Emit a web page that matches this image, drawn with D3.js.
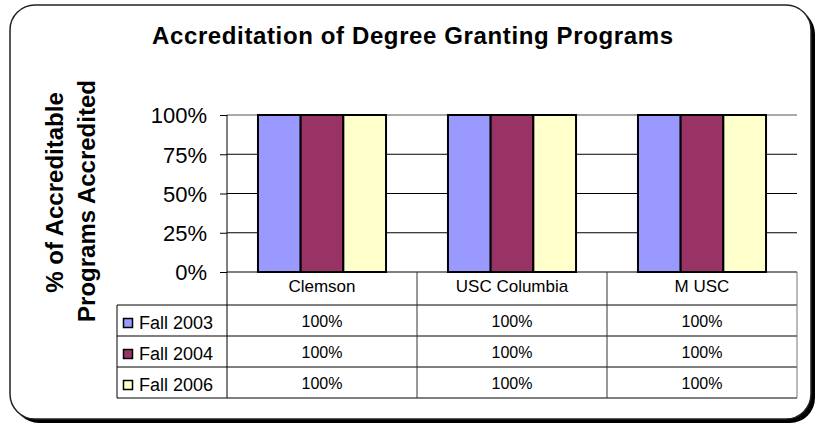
<!DOCTYPE html>
<html>
<head>
<meta charset="utf-8">
<script src="https://cdn.jsdelivr.net/npm/d3@7"></script>
<style>
  body { margin: 0; background: #fff; }
  text { font-family: "Liberation Sans", Arial, sans-serif; fill: #000; }
</style>
</head>
<body>
<svg id="chart" width="818" height="427"></svg>
<script>
// Chart data
var categories = ['Clemson', 'USC Columbia', 'M USC'];
var seriesNames = ['Fall 2003', 'Fall 2004', 'Fall 2006'];
var fall2003 = [1, 1, 1];
var fall2004 = [1, 1, 1];
var fall2006 = [1, 1, 1];
var yTicks = [0, 0.25, 0.5, 0.75, 1];
var colors = ['#9999ff', '#993366', '#ffffcc'];

var seriesValues = [fall2003, fall2004, fall2006];

var svg = d3.select('#chart');

// Plot area (note: "top" is reserved on window, so prefix everything)
var plotLeft = 227, plotRight = 797, plotTop = 115, plotBottom = 272;
var tableTop = 305, tableBottom = 398, legendLeft = 117;

// Frame with shadow
svg.append('rect')
    .attr('x', 14).attr('y', 9)
    .attr('width', 801).attr('height', 414)
    .attr('rx', 25).attr('ry', 25)
    .attr('fill', '#000');
svg.append('rect')
    .attr('x', 10).attr('y', 5)
    .attr('width', 801).attr('height', 414)
    .attr('rx', 25).attr('ry', 25)
    .attr('fill', '#fff')
    .attr('stroke', '#222')
    .attr('stroke-width', 1.5);

// Title
svg.append('text')
    .attr('x', 152).attr('y', 44)
    .attr('textLength', 521)
    .attr('lengthAdjust', 'spacing')
    .style('font-size', '24px')
    .style('font-weight', 'bold')
    .text('Accreditation of Degree Granting Programs');

// Y axis title
svg.append('text')
    .attr('transform', 'translate(63,192.5) rotate(-90)')
    .attr('text-anchor', 'middle')
    .style('font-size', '24px')
    .style('font-weight', 'bold')
    .text('% of Accreditable');
svg.append('text')
    .attr('transform', 'translate(95,201) rotate(-90)')
    .attr('text-anchor', 'middle')
    .style('font-size', '24px')
    .style('font-weight', 'bold')
    .text('Programs Accredited');

// Scales
var xScale = d3.scaleBand()
    .domain(categories)
    .range([plotLeft, plotRight])
    .paddingInner(0.326)
    .paddingOuter(0.163);

var xCat = d3.scaleBand()
    .domain(categories)
    .range([plotLeft, plotRight]);

var xSeries = d3.scaleBand()
    .domain(seriesNames)
    .range([0, xScale.bandwidth()]);

var yScale = d3.scaleLinear()
    .domain([0, 1])
    .range([plotBottom, plotTop]);

var rowScale = d3.scaleBand()
    .domain(seriesNames)
    .range([tableTop, tableBottom]);

// Gridlines
svg.append('g').selectAll('line')
    .data(yTicks.filter(function (d) { return d > 0; }))
    .enter()
  .append('line')
    .attr('x1', plotLeft).attr('x2', plotRight)
    .attr('y1', function (d) { return yScale(d); })
    .attr('y2', function (d) { return yScale(d); })
    .attr('stroke', function (d) { return d === 1 ? '#555' : '#000'; })
    .attr('stroke-width', 1);

// Y axis
var yAxis = d3.axisLeft(yScale)
    .tickValues(yTicks)
    .tickSize(7)
    .tickPadding(13)
    .tickFormat(d3.format('.0%'));

var yAxisG = svg.append('g')
    .attr('transform', 'translate(' + plotLeft + ',0)')
    .call(yAxis);
yAxisG.select('.domain').remove();
yAxisG.selectAll('line').attr('stroke', '#000');
yAxisG.selectAll('text')
    .style('font-family', '"Liberation Sans", Arial, sans-serif')
    .style('font-size', '22px')
    .attr('dy', '0.36em');

// Bars
var groups = svg.append('g').selectAll('g')
    .data(categories)
    .enter()
  .append('g')
    .attr('transform', function (d) { return 'translate(' + xScale(d) + ',0)'; });

groups.selectAll('rect')
    .data(function (d, i) {
      return seriesNames.map(function (s, j) {
        return { series: s, value: seriesValues[j][i], color: colors[j] };
      });
    })
    .enter()
  .append('rect')
    .attr('x', function (d) { return xSeries(d.series); })
    .attr('y', function (d) { return yScale(d.value); })
    .attr('width', xSeries.bandwidth())
    .attr('height', function (d) { return yScale(0) - yScale(d.value); })
    .attr('fill', function (d) { return d.color; })
    .attr('stroke', '#000')
    .attr('stroke-width', 2);

// Data table lines
var tbl = svg.append('g');

tbl.append('line')
    .attr('x1', plotLeft).attr('x2', plotRight)
    .attr('y1', plotBottom).attr('y2', plotBottom)
    .attr('stroke', '#000');

tbl.selectAll('.hrow')
    .data(seriesNames.concat(['end']))
    .enter()
  .append('line')
    .attr('class', 'hrow')
    .attr('x1', legendLeft).attr('x2', plotRight)
    .attr('y1', function (d) { return d === 'end' ? tableBottom : rowScale(d); })
    .attr('y2', function (d) { return d === 'end' ? tableBottom : rowScale(d); })
    .attr('stroke', '#000');

tbl.append('line')
    .attr('x1', legendLeft).attr('x2', legendLeft)
    .attr('y1', tableTop).attr('y2', tableBottom)
    .attr('stroke', '#000');

tbl.append('line')
    .attr('x1', plotLeft).attr('x2', plotLeft)
    .attr('y1', plotTop).attr('y2', tableBottom)
    .attr('stroke', '#000');

tbl.selectAll('.vcol')
    .data(categories)
    .enter()
  .append('line')
    .attr('class', 'vcol')
    .attr('x1', function (d) { return xCat(d) + xCat.bandwidth(); })
    .attr('x2', function (d) { return xCat(d) + xCat.bandwidth(); })
    .attr('y1', plotBottom).attr('y2', tableBottom)
    .attr('stroke', function (d, i) { return i === categories.length - 1 ? '#777' : '#333'; });

// Category labels
tbl.selectAll('.cat')
    .data(categories)
    .enter()
  .append('text')
    .attr('class', 'cat')
    .attr('x', function (d) { return xCat(d) + xCat.bandwidth() / 2; })
    .attr('y', 292)
    .attr('text-anchor', 'middle')
    .style('font-size', '17px')
    .text(function (d) { return d; });

// Legend keys and labels
var rows = tbl.selectAll('.row')
    .data(seriesNames)
    .enter()
  .append('g')
    .attr('class', 'row')
    .attr('transform', function (d) { return 'translate(0,' + (rowScale(d) + rowScale.bandwidth() / 2) + ')'; });

rows.append('rect')
    .attr('x', 123.5).attr('y', -2)
    .attr('width', 9).attr('height', 9)
    .attr('fill', function (d, i) { return colors[i]; })
    .attr('stroke', '#000')
    .attr('stroke-width', 1.5);

rows.append('text')
    .attr('x', 139).attr('y', 8)
    .style('font-size', '18px')
    .text(function (d) { return d; });

rows.selectAll('.val')
    .data(function (d, j) {
      return categories.map(function (c, i) { return { cat: c, value: seriesValues[j][i] }; });
    })
    .enter()
  .append('text')
    .attr('class', 'val')
    .attr('x', function (d) { return xCat(d.cat) + xCat.bandwidth() / 2; })
    .attr('y', 6)
    .attr('text-anchor', 'middle')
    .style('font-size', '16px')
    .text(function (d) { return d3.format('.0%')(d.value); });
</script>
</body>
</html>
